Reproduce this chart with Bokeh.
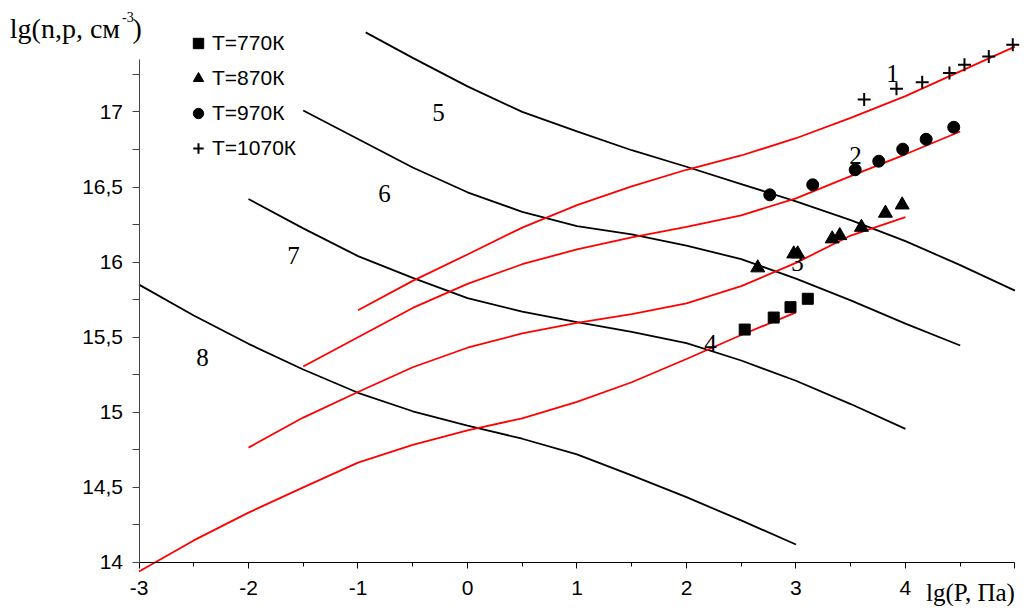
from bokeh.plotting import figure
from bokeh.models import Range1d, FixedTicker, Label, Legend, LegendItem
from bokeh.embed import file_html
from bokeh.resources import INLINE

# ---- black curves 5..8 ----
x5 = [-0.93, -0.5, 0, 0.5, 1, 1.5, 2, 2.5, 3, 3.5, 4, 4.5, 5]
y5 = [17.53, 17.36, 17.17, 17.00, 16.87, 16.745, 16.635, 16.52, 16.405, 16.28, 16.14, 15.98, 15.81]
x6 = [-1.5, -1, -0.5, 0, 0.5, 1, 1.5, 2, 2.5, 3, 3.5, 4, 4.5]
y6 = [17.01, 16.82, 16.63, 16.465, 16.335, 16.24, 16.185, 16.11, 16.02, 15.89, 15.745, 15.59, 15.445]
x7 = [-2, -1.5, -1, -0.5, 0, 0.5, 1, 1.5, 2, 2.5, 3, 3.5, 4]
y7 = [16.42, 16.225, 16.04, 15.895, 15.76, 15.67, 15.60, 15.535, 15.46, 15.345, 15.21, 15.055, 14.89]
x8 = [-3, -2.5, -2, -1.5, -1, -0.5, 0, 0.5, 1, 1.5, 2, 2.5, 3]
y8 = [15.85, 15.645, 15.456, 15.285, 15.13, 15.007, 14.912, 14.824, 14.72, 14.58, 14.435, 14.28, 14.12]

# ---- red curves 1..4 ----
x1 = [-1, -0.5, 0, 0.5, 1, 1.5, 2, 2.5, 3, 3.5, 4, 4.5, 5]
y1 = [15.68, 15.875, 16.051, 16.23, 16.38, 16.505, 16.615, 16.71, 16.825, 16.96, 17.105, 17.27, 17.435]
x2 = [-1.5, -1, -0.5, 0, 0.5, 1, 1.5, 2, 2.5, 3, 3.5, 4, 4.5]
y2 = [15.305, 15.50, 15.695, 15.855, 15.986, 16.085, 16.165, 16.234, 16.312, 16.425, 16.573, 16.718, 16.87]
x3 = [-2, -1.5, -1, -0.5, 0, 0.5, 1, 1.5, 2, 2.5, 3, 3.5, 4]
y3 = [14.765, 14.965, 15.135, 15.30, 15.43, 15.525, 15.595, 15.654, 15.725, 15.84, 15.995, 16.177, 16.30]
x4 = [-3, -2.5, -2, -1.5, -1, -0.5, 0, 0.5, 1, 1.5, 2, 2.5, 3]
y4 = [13.94, 14.147, 14.332, 14.50, 14.665, 14.783, 14.88, 14.96, 15.07, 15.20, 15.355, 15.515, 15.665]

# ---- measured points ----
x770 = [2.532, 2.797, 2.950, 3.108]
y770 = [15.551, 15.631, 15.700, 15.756]
x870 = [2.651, 2.980, 3.016, 3.331, 3.400, 3.598, 3.817, 3.970]
y870 = [15.962, 16.055, 16.055, 16.155, 16.177, 16.232, 16.326, 16.381]
x970 = [2.761, 3.153, 3.541, 3.756, 3.975, 4.189, 4.441]
y970 = [16.448, 16.515, 16.615, 16.672, 16.752, 16.818, 16.898]
x1070 = [3.623, 3.918, 4.153, 4.402, 4.539, 4.761, 4.980]
y1070 = [17.083, 17.154, 17.198, 17.260, 17.314, 17.369, 17.447]
legend_labels = ["T=770К", "T=870К", "T=970К", "T=1070К"]

# ---- curve numbers ----
num_text = ["1", "2", "3", "4", "5", "6", "7", "8"]
num_x = [3.881, 3.543, 3.014, 2.219, -0.265, -0.758, -1.589, -2.42]
num_y = [17.256, 16.71, 15.998, 15.458, 16.996, 16.457, 16.044, 15.365]

x_ticks = [-3, -2, -1, 0, 1, 2, 3, 4, 5]
x_tick_labels = ["-3", "-2", "-1", "0", "1", "2", "3", "4", ""]
y_ticks = [14, 14.5, 15, 15.5, 16, 16.5, 17]
y_tick_labels = ["14", "14,5", "15", "15,5", "16", "16,5", "17"]

x_title = "lg(P, Па)"
y_title_main = "lg(n,p, см"
y_title_sup = "-3"
y_title_end = ")"

SERIF = "Liberation Serif"
SANS = "Liberation Sans"

p = figure(width=1022, height=606, output_backend="svg", toolbar_location=None,
           x_range=Range1d(-4.265, 5.069), y_range=Range1d(13.707, 17.742),
           min_border=0, min_border_left=0, min_border_right=0,
           min_border_top=0, min_border_bottom=0)
p.outline_line_color = None
p.xgrid.visible = False
p.ygrid.visible = False
p.background_fill_color = "white"
p.border_fill_color = "white"

black_sets = [(x5, y5), (x6, y6), (x7, y7), (x8, y8)]
red_sets = [(x1, y1), (x2, y2), (x3, y3), (x4, y4)]
for xs, ys in black_sets:
    p.line(xs, ys, line_color="black", line_width=1.8)
for xs, ys in red_sets:
    p.line(xs, ys, line_color="#ff0000", line_width=1.8)

r770 = p.scatter(x770, y770, marker="square", size=11, color="black")
r870 = p.scatter(x870, y870, marker="triangle", size=14, color="black")
r970 = p.scatter(x970, y970, marker="circle", size=12, color="black")
r1070 = p.scatter(x1070, y1070, marker="cross", size=13, line_color="black", line_width=2)

for t, xx, yy in zip(num_text, num_x, num_y):
    p.add_layout(Label(x=xx, y=yy, text=t, text_align="center", text_baseline="middle",
                       text_font=SERIF, text_font_size="25px", text_color="black"))

legend = Legend(items=[LegendItem(label=lab, renderers=[r]) for lab, r in
                       zip(legend_labels, [r770, r870, r970, r1070])],
                location=(185, 445), padding=0, margin=0, spacing=9,
                glyph_height=26, glyph_width=26, label_height=26, label_standoff=1,
                label_text_font=SANS, label_text_font_size="21px", label_text_color="black",
                background_fill_alpha=0, border_line_alpha=0)
p.add_layout(legend)

# axes, drawn at fixed positions inside the frame
xa = p.xaxis[0]
xa.fixed_location = 14
xa.bounds = (-3, 5)
xa.ticker = FixedTicker(ticks=x_ticks, minor_ticks=[v + 0.5 for v in x_ticks[:-1]])
xa.major_label_overrides = {v: s for v, s in zip(x_ticks, x_tick_labels)}
xa.major_label_text_font = SANS
xa.major_label_text_font_size = "21px"
xa.major_label_text_color = "black"
xa.major_tick_out = 6
xa.major_tick_in = 0
xa.minor_tick_out = 4
xa.minor_tick_in = 0
xa.major_label_standoff = 13
xa.axis_line_color = "black"
xa.major_tick_line_color = "black"
xa.minor_tick_line_color = "black"

ya = p.yaxis[0]
ya.fixed_location = -3
ya.bounds = (14, 17.35)
ya.ticker = FixedTicker(ticks=y_ticks, minor_ticks=[v + 0.25 for v in y_ticks])
ya.major_label_overrides = {v: s for v, s in zip(y_ticks, y_tick_labels)}
ya.major_label_text_font = SANS
ya.major_label_text_font_size = "21px"
ya.major_label_text_color = "black"
ya.major_tick_out = 7
ya.major_tick_in = 0
ya.minor_tick_out = 7
ya.minor_tick_in = 0
ya.major_label_standoff = 9
ya.axis_line_color = "#444444"
ya.major_tick_line_color = "#444444"
ya.minor_tick_line_color = "#444444"

# axis titles
p.add_layout(Label(x=5.0, y=13.8, text=x_title, text_align="right", text_baseline="middle",
                   text_font=SERIF, text_font_size="25px", text_color="black"))
p.add_layout(Label(x=-4.18, y=17.556, text=y_title_main, text_align="left", text_baseline="alphabetic",
                   text_font=SERIF, text_font_size="28px", text_color="black"))
p.add_layout(Label(x=-3.155, y=17.63, text=y_title_sup, text_align="left", text_baseline="alphabetic",
                   text_font=SERIF, text_font_size="14px", text_color="black"))
p.add_layout(Label(x=-3.06, y=17.556, text=y_title_end, text_align="left", text_baseline="alphabetic",
                   text_font=SERIF, text_font_size="28px", text_color="black"))

open("out.html", "w").write(file_html(p, INLINE))
